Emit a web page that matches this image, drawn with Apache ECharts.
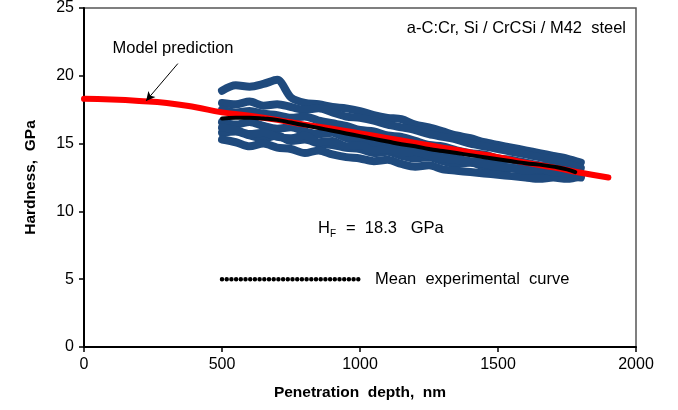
<!DOCTYPE html>
<html>
<head>
<meta charset="utf-8">
<script src="https://cdn.jsdelivr.net/npm/echarts@6/dist/echarts.min.js"></script>
<style>
	html, body { margin: 0; padding: 0; background: #fff; }
	#chart { width: 678px; height: 410px; }
</style>
</head>
<body>
<div id="chart"></div>
<script>
	// depth grid for the measured curves (nm)
	const depth = [500, 550, 600, 650, 700, 750, 800, 850, 900, 950, 1000, 1050, 1100, 1150, 1200,
		1250, 1300, 1350, 1400, 1450, 1500, 1550, 1600, 1650, 1700, 1750, 1800];

	// individual indentation curves (GPa)
	const run1 = [18.9, 19.3, 19.2, 19.4, 19.7, 18.4, 18.0, 17.9, 17.7, 17.6, 17.4, 17.1, 16.9, 16.8, 16.4, 16.2, 15.9, 15.6, 15.4, 15.1, 14.9, 14.7, 14.5, 14.3, 14.1, 13.9, 13.6];
	const run2 = [18.0, 17.9, 18.1, 17.8, 17.9, 17.7, 17.5, 17.6, 17.3, 17.0, 16.9, 16.7, 16.4, 16.2, 16.0, 15.7, 15.5, 15.3, 15.0, 14.8, 14.6, 14.4, 14.2, 14.0, 13.8, 13.5, 13.2];
	const run3 = [17.5, 17.3, 17.4, 17.2, 17.1, 16.9, 17.0, 16.7, 16.5, 16.3, 16.0, 15.9, 15.6, 15.5, 15.2, 14.9, 14.8, 14.5, 14.3, 14.2, 13.9, 13.8, 13.6, 13.4, 13.3, 13.0, 12.8];
	const run4 = [16.6, 16.4, 16.6, 16.3, 16.1, 16.2, 15.9, 15.7, 15.8, 15.4, 15.2, 15.0, 14.9, 14.6, 14.5, 14.3, 14.1, 13.9, 13.7, 13.6, 13.4, 13.2, 13.1, 13.0, 12.9, 12.7, 12.6];
	const run5 = [15.8, 15.9, 15.6, 15.4, 15.6, 15.2, 15.3, 15.0, 14.9, 14.7, 14.6, 14.3, 14.4, 14.1, 13.9, 14.0, 13.7, 13.5, 13.6, 13.3, 13.1, 13.2, 12.9, 12.8, 12.7, 12.6, 12.5];
	const run6 = [15.3, 15.1, 14.8, 15.0, 14.7, 14.6, 14.3, 14.5, 14.2, 14.0, 13.9, 13.7, 13.8, 13.5, 13.3, 13.4, 13.1, 13.0, 12.9, 12.8, 12.7, 12.6, 12.5, 12.4, 12.5, 12.4, 12.6];
	const run7 = [16.2, 16.0, 15.7, 15.8, 15.5, 15.4, 15.6, 15.1, 15.2, 14.8, 14.9, 14.5, 14.6, 14.3, 14.4, 14.1, 13.9, 13.8, 13.6, 13.5, 13.3, 13.2, 13.0, 13.1, 12.9, 12.8, 12.7];
	const runs = [run1, run2, run3, run4, run5, run6, run7];

	// mean experimental curve
	const meanDepth = [500, 550, 600, 650, 700, 750, 800, 850, 900, 950, 1000, 1050, 1100, 1150, 1200,
		1250, 1300, 1350, 1400, 1450, 1500, 1550, 1600, 1650, 1700, 1750, 1780];
	const meanHardness = [16.85, 16.9, 16.9, 16.85, 16.75, 16.55, 16.35, 16.15, 15.95, 15.75, 15.55, 15.35, 15.15, 14.95, 14.8,
		14.6, 14.45, 14.3, 14.15, 14.0, 13.85, 13.7, 13.55, 13.45, 13.3, 13.1, 12.9];

	// model prediction
	const modelDepth = [0, 100, 200, 300, 400, 500, 600, 700, 800, 900, 1000, 1100, 1200, 1300, 1400, 1500, 1600, 1700, 1800, 1900];
	const modelHardness = [18.3, 18.25, 18.15, 18.0, 17.7, 17.3, 17.05, 16.75, 16.4, 16.1, 15.75, 15.4, 15.05, 14.7, 14.35, 14.0, 13.6, 13.25, 12.85, 12.5];

	// legend sample line and annotation arrow
	const legendDepth = [500, 1000];
	const legendHardness = [5, 5];
	const arrowFrom = [340, 20.9];
	const arrowTo = [225, 18.15];

	const xTicks = [0, 500, 1000, 1500, 2000];
	const yTicks = [0, 5, 10, 15, 20, 25];

	const font = 'Liberation Sans, Arial, sans-serif';
	const zip = (xs, ys) => xs.map((x, i) => [x, ys[i]]);

	const series = runs.map(r => ({
		type: 'line',
		data: zip(depth, r),
		smooth: 0.3,
		showSymbol: false,
		silent: true,
		lineStyle: { color: '#1f4a7d', width: 8, cap: 'round', join: 'round' },
		z: 2
	}));

	series.push({
		name: 'Model prediction',
		type: 'line',
		data: zip(modelDepth, modelHardness),
		smooth: true,
		showSymbol: false,
		lineStyle: { color: '#ff0000', width: 6, cap: 'round' },
		z: 3,
		markLine: {
			silent: true,
			symbol: ['none', 'arrow'],
			symbolSize: [7, 9],
			label: { show: false },
			lineStyle: { color: '#000', width: 1, type: 'solid' },
			data: [[{ coord: arrowFrom }, { coord: arrowTo }]]
		}
	});

	series.push({
		name: 'Mean experimental curve',
		type: 'line',
		data: zip(meanDepth, meanHardness),
		smooth: true,
		showSymbol: false,
		lineStyle: { color: '#000', width: 4, cap: 'round' },
		z: 4
	});

	series.push({
		type: 'line',
		data: zip(legendDepth, legendHardness),
		showSymbol: false,
		lineStyle: { color: '#000', width: 4.5, type: [0, 4.7], cap: 'round' },
		z: 4
	});

	const chart = echarts.init(document.getElementById('chart'));
	chart.setOption({
		animation: false,
		backgroundColor: '#fff',
		grid: {
			left: 84, right: 42, top: 8, bottom: 63,
			show: true, borderColor: '#555', borderWidth: 1.5
		},
		xAxis: {
			type: 'value',
			min: xTicks[0], max: xTicks[xTicks.length - 1], interval: 500,
			name: 'Penetration  depth,  nm',
			nameLocation: 'middle', nameGap: 38,
			nameTextStyle: { fontFamily: font, fontSize: 15.5, fontWeight: 'bold', color: '#000' },
			axisLine: { lineStyle: { color: '#000', width: 2 } },
			axisTick: { length: 5, lineStyle: { color: '#000', width: 1.5 } },
			axisLabel: { fontFamily: font, fontSize: 16, color: '#000', margin: 10, formatter: v => String(v) },
			splitLine: { show: false }
		},
		yAxis: {
			type: 'value',
			min: yTicks[0], max: yTicks[yTicks.length - 1], interval: 5,
			name: 'Hardness,  GPa',
			nameLocation: 'middle', nameGap: 45,
			nameTextStyle: { fontFamily: font, fontSize: 15.5, fontWeight: 'bold', color: '#000' },
			axisLine: { show: true, lineStyle: { color: '#000', width: 2 } },
			axisTick: { show: true, length: 5, lineStyle: { color: '#000', width: 1.5 } },
			axisLabel: { fontFamily: font, fontSize: 16, color: '#000', margin: 10, formatter: v => String(v) },
			splitLine: { show: false }
		},
		graphic: [
			{ type: 'text', x: 173, y: 48, style: { text: 'Model prediction', fontFamily: font, fontSize: 16.5, fill: '#000', align: 'center', verticalAlign: 'middle' } },
			{ type: 'text', x: 626, y: 28, style: { text: 'a-C:Cr, Si / CrCSi / M42  steel', fontFamily: font, fontSize: 16.5, fill: '#000', align: 'right', verticalAlign: 'middle' } },
			{ type: 'text', x: 318, y: 228, style: { text: 'H', fontFamily: font, fontSize: 16.5, fill: '#000', verticalAlign: 'middle' } },
			{ type: 'text', x: 330, y: 234, style: { text: 'F', fontFamily: font, fontSize: 10, fill: '#000', verticalAlign: 'middle' } },
			{ type: 'text', x: 346, y: 228, style: { text: '=  18.3   GPa', fontFamily: font, fontSize: 16.5, fill: '#000', verticalAlign: 'middle' } },
			{ type: 'text', x: 375, y: 279, style: { text: 'Mean  experimental  curve', fontFamily: font, fontSize: 16.5, fill: '#000', verticalAlign: 'middle' } }
		],
		series: series
	});
</script>
</body>
</html>
